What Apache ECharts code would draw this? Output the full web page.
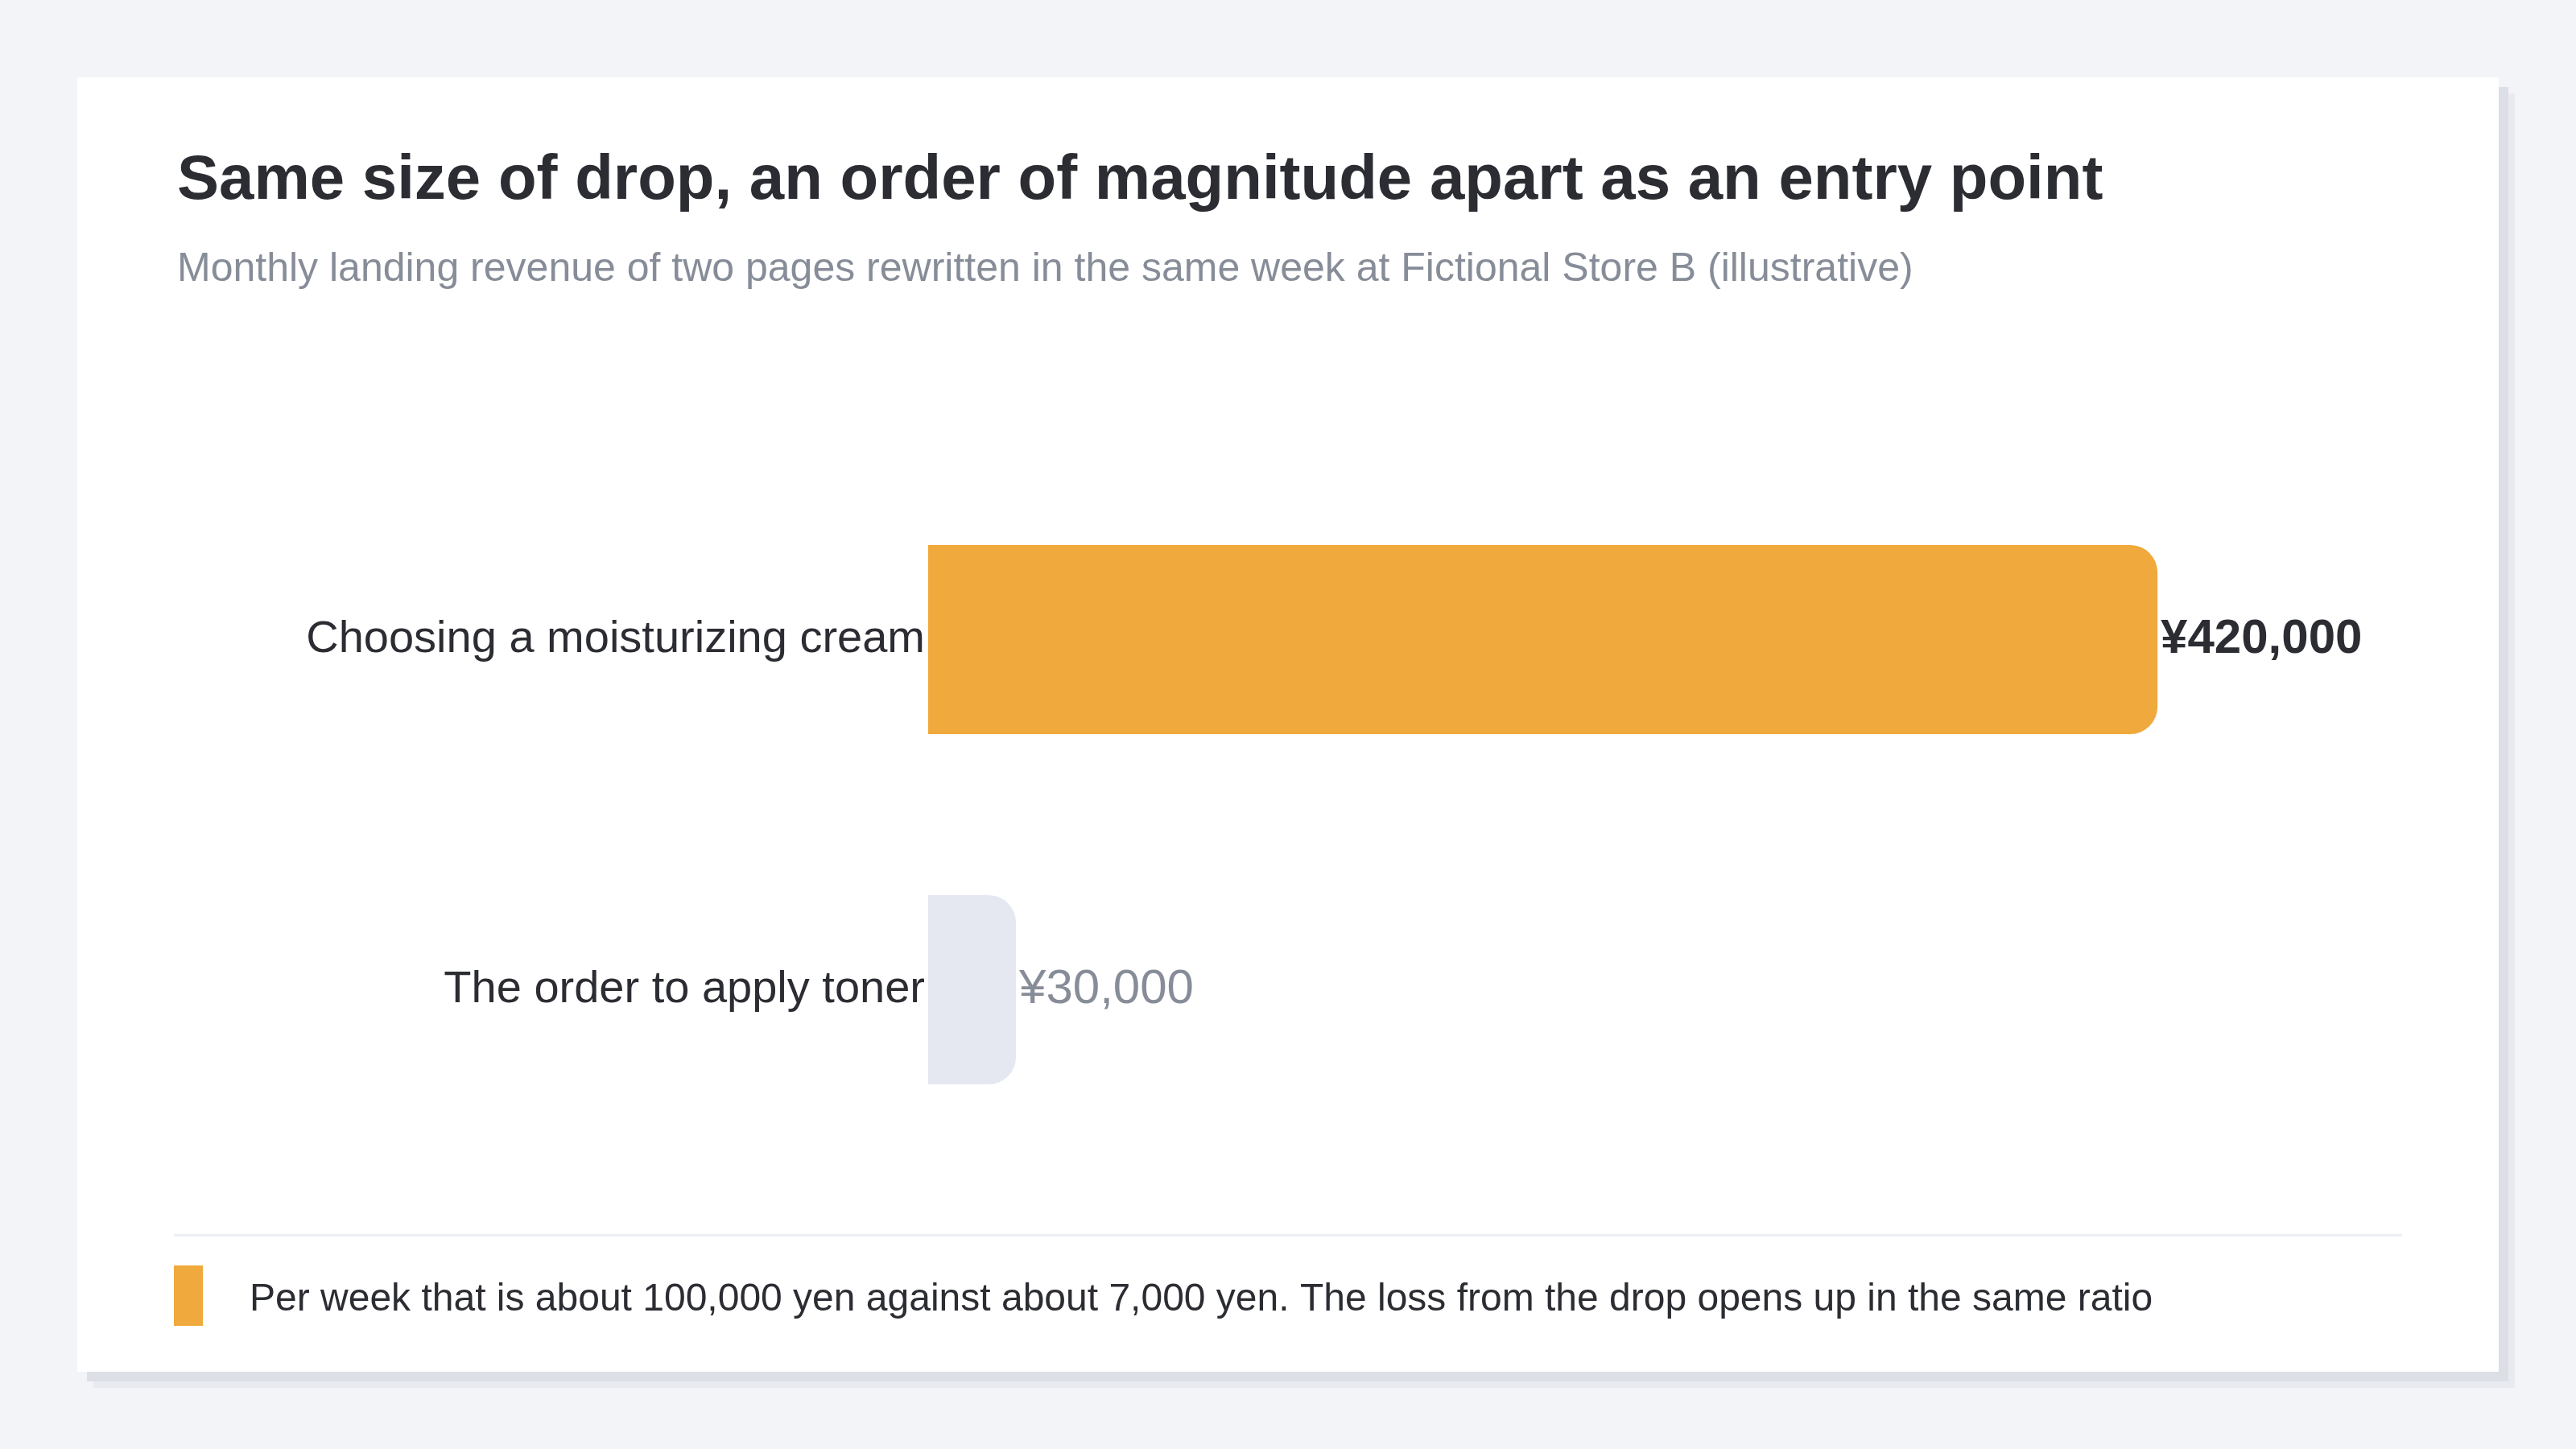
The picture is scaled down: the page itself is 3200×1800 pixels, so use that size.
<!DOCTYPE html>
<html>
<head>
<meta charset="utf-8">
<script src="https://cdn.jsdelivr.net/npm/echarts@6/dist/echarts.min.js"></script>
<style>
  html, body { margin: 0; padding: 0; background: #f3f4f8; }
  #chart { width: 3200px; height: 1800px; }
</style>
</head>
<body>
<div id="chart"></div>
<script>
const titleText = 'Same size of drop, an order of magnitude apart as an entry point';
const subtitleText = 'Monthly landing revenue of two pages rewritten in the same week at Fictional Store B (illustrative)';
const categories = ['Choosing a moisturizing cream', 'The order to apply toner'];
const revenueYen = [420000, 30000];
const valueLabels = ['¥420,000', '¥30,000'];
const footnoteText = 'Per week that is about 100,000 yen against about 7,000 yen. The loss from the drop opens up in the same ratio';

const FONT = '"Liberation Sans", Arial, Helvetica, sans-serif';
const ORANGE = '#f0a93c';
const GREYBAR = '#e5e8f0';
const DARK = '#2b2d33';
const MUTED = '#878d98';

const chart = echarts.init(document.getElementById('chart'), null, { renderer: 'canvas' });

const barData = revenueYen.map((v, i) => ({
  value: v,
  itemStyle: { color: i === 0 ? ORANGE : GREYBAR, borderRadius: [0, 34, 34, 0] },
  label: i === 0
    ? { color: DARK, fontWeight: 'bold' }
    : { color: MUTED, fontWeight: 'normal' }
}));

chart.setOption({
  backgroundColor: '#f3f4f8',
  animation: false,
  graphic: [
    { type: 'rect', z: -10, shape: { x: 116, y: 116, width: 3008, height: 1608 }, style: { fill: '#e8eaef' } },
    { type: 'rect', z: -9, shape: { x: 108, y: 108, width: 3008, height: 1608 }, style: { fill: '#dcdfe6' } },
    { type: 'rect', z: -8, shape: { x: 96, y: 96, width: 3008, height: 1608 }, style: { fill: '#ffffff' } },
    { type: 'text', left: 220, top: 186, style: { text: titleText, font: 'bold 78px ' + FONT, fill: DARK } },
    { type: 'text', left: 220, top: 310, style: { text: subtitleText, font: '50px ' + FONT, fill: MUTED } },
    { type: 'rect', shape: { x: 216, y: 1533, width: 2768, height: 3 }, style: { fill: '#eceef2' } },
    { type: 'rect', shape: { x: 216, y: 1572, width: 36, height: 75 }, style: { fill: ORANGE } },
    { type: 'text', left: 310, top: 1591, style: { text: footnoteText, font: '48px ' + FONT, fill: DARK } }
  ],
  grid: { left: 1153, right: 229, top: 577, height: 870, containLabel: false },
  xAxis: {
    type: 'value', min: 0, max: 500000,
    show: false
  },
  yAxis: {
    type: 'category', data: categories, inverse: true,
    axisLine: { show: false }, axisTick: { show: false }, splitLine: { show: false },
    axisLabel: { margin: 4, color: DARK, fontSize: 56, fontFamily: FONT, padding: [16, 0, 0, 0] }
  },
  series: [{
    type: 'bar',
    data: barData,
    barWidth: 235,
    label: {
      show: true, position: 'right', distance: 4,
      fontSize: 60, fontFamily: FONT, padding: [14, 0, 0, 0],
      formatter: p => valueLabels[p.dataIndex]
    }
  }]
});
</script>
</body>
</html>
